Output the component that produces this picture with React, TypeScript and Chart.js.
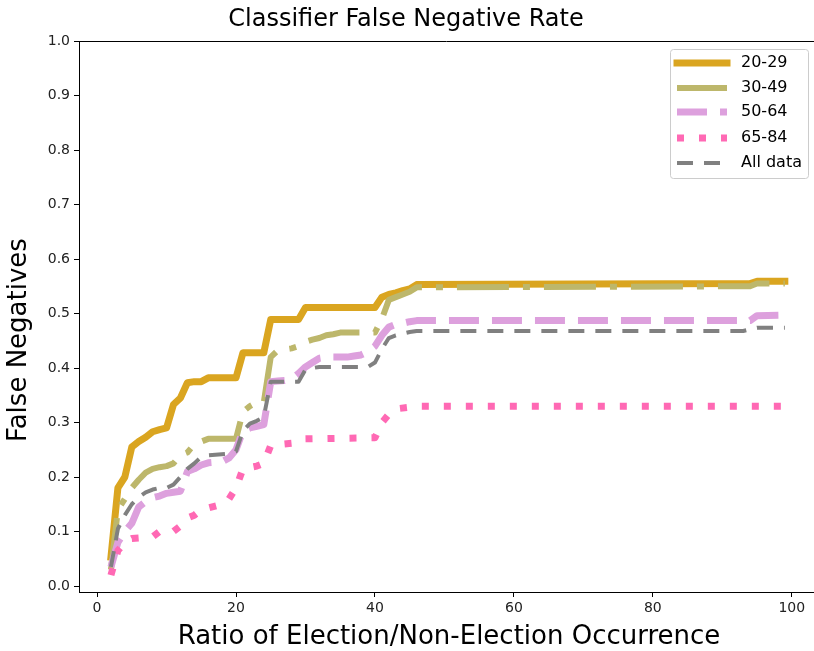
import React, { useEffect, useRef } from 'react';
import { Chart, registerables } from 'chart.js';

Chart.register(...registerables);

const TITLE = 'Classifier False Negative Rate';
const X_LABEL = 'Ratio of Election/Non-Election Occurrence';
const Y_LABEL = 'False Negatives';

const LABELS = ['20-29', '30-49', '50-64', '65-84', 'All data'];
const COLORS = ['#DAA520', '#BDB76B', '#DDA0DD', '#FF69B4', '#808080'];
const WIDTHS = [7, 6, 7, 7, 4];
const DASHES: number[][] = [[], [52, 14, 7, 14], [30, 13], [7, 15], [16, 11]];

const X_TICKS = [0, 20, 40, 60, 80, 100];
const Y_TICKS = [0, 0.1, 0.2, 0.3, 0.4, 0.5, 0.6, 0.7, 0.8, 0.9, 1.0];

const X_2029 = [2, 3, 4, 5, 6, 7, 8, 9, 10, 11, 12, 13, 14, 15, 16, 20, 21, 24, 25, 29, 30, 40, 41, 42, 43, 44, 45, 46, 94, 95, 99];
const Y_2029 = [0.053, 0.18, 0.2, 0.255, 0.265, 0.273, 0.283, 0.287, 0.29, 0.333, 0.345, 0.373, 0.375, 0.375, 0.382, 0.382, 0.428, 0.428, 0.489, 0.489, 0.511, 0.511, 0.53, 0.535, 0.538, 0.542, 0.545, 0.553, 0.555, 0.559, 0.559];

const X_3049 = [2, 3, 4, 5, 6, 7, 8, 9, 10, 11, 12, 13, 14, 15, 16, 20, 21, 22, 23, 24, 25, 26, 27, 28, 29, 30, 31, 32, 33, 34, 35, 40, 41, 42, 43, 44, 45, 46, 94, 95, 99];
const Y_3049 = [0.03, 0.14, 0.16, 0.18, 0.195, 0.208, 0.215, 0.218, 0.22, 0.225, 0.24, 0.245, 0.26, 0.265, 0.27, 0.27, 0.32, 0.33, 0.337, 0.337, 0.42, 0.432, 0.434, 0.436, 0.44, 0.448, 0.452, 0.455, 0.46, 0.462, 0.465, 0.465, 0.49, 0.525, 0.53, 0.535, 0.54, 0.548, 0.55, 0.555, 0.555];

const X_5064 = [2, 3, 4, 5, 6, 7, 8, 9, 10, 11, 12, 13, 14, 15, 16, 17, 18, 19, 20, 21, 22, 23, 24, 25, 26, 27, 28, 29, 30, 31, 32, 33, 36, 37, 38, 39, 40, 41, 42, 43, 44, 45, 46, 94, 95, 99];
const Y_5064 = [0.035, 0.08, 0.1, 0.115, 0.145, 0.155, 0.162, 0.165, 0.17, 0.172, 0.174, 0.21, 0.215, 0.222, 0.226, 0.227, 0.228, 0.235, 0.25, 0.285, 0.29, 0.293, 0.296, 0.375, 0.376, 0.377, 0.38, 0.39, 0.402, 0.41, 0.418, 0.42, 0.42, 0.422, 0.424, 0.43, 0.44, 0.46, 0.475, 0.48, 0.482, 0.485, 0.487, 0.487, 0.496, 0.497];

const X_6584 = [2, 3, 4, 5, 8, 9, 11, 12, 13, 14, 15, 18, 19, 20, 21, 23, 24, 25, 29, 30, 40, 41, 42, 43, 45, 46, 99];
const Y_6584 = [0.02, 0.065, 0.08, 0.087, 0.09, 0.1, 0.1, 0.11, 0.125, 0.13, 0.14, 0.15, 0.16, 0.18, 0.215, 0.22, 0.225, 0.258, 0.263, 0.27, 0.272, 0.3, 0.315, 0.325, 0.328, 0.33, 0.33];

const X_ALL = [2, 3, 4, 5, 6, 7, 8, 9, 10, 11, 12, 13, 14, 15, 16, 19, 20, 21, 22, 23, 24, 25, 29, 30, 31, 32, 39, 40, 41, 42, 43, 44, 45, 46, 93, 94, 95, 99];
const Y_ALL = [0.035, 0.105, 0.13, 0.15, 0.163, 0.172, 0.177, 0.18, 0.18, 0.186, 0.2, 0.215, 0.225, 0.237, 0.24, 0.243, 0.247, 0.285, 0.298, 0.303, 0.31, 0.375, 0.375, 0.397, 0.4, 0.402, 0.402, 0.41, 0.435, 0.455, 0.46, 0.463, 0.466, 0.468, 0.468, 0.471, 0.474, 0.474];

const SERIES_X = [X_2029, X_3049, X_5064, X_6584, X_ALL];
const SERIES_Y = [Y_2029, Y_3049, Y_5064, Y_6584, Y_ALL];

const FONT = "'DejaVu Sans', 'Liberation Sans', sans-serif";

const decorPlugin = {
  id: 'decor',
  afterDraw(chart: any) {
    const ctx = chart.ctx as CanvasRenderingContext2D;
    const area = chart.chartArea;
    ctx.save();
    // top spine
    ctx.strokeStyle = '#000';
    ctx.lineWidth = 1;
    ctx.beginPath();
    ctx.moveTo(area.left, area.top + 0.5);
    ctx.lineTo(area.right, area.top + 0.5);
    ctx.stroke();

    // title
    ctx.fillStyle = '#000';
    ctx.font = `24px ${FONT}`;
    ctx.textAlign = 'center';
    ctx.textBaseline = 'middle';
    ctx.fillText(TITLE, 406, 20);

    // x label
    ctx.font = `26px ${FONT}`;
    ctx.fillText(X_LABEL, 449, 637);

    // y label
    ctx.save();
    ctx.translate(19, 340);
    ctx.rotate(-Math.PI / 2);
    ctx.fillText(Y_LABEL, 0, 0);
    ctx.restore();

    // legend
    const bx = 670.5, by = 49.5, bw = 138, bh = 129;
    ctx.beginPath();
    ctx.roundRect(bx, by, bw, bh, 3);
    ctx.fillStyle = 'rgba(255,255,255,0.8)';
    ctx.fill();
    ctx.strokeStyle = '#cccccc';
    ctx.lineWidth = 1;
    ctx.stroke();

    const rowY = [63, 88, 112, 138, 163];
    LABELS.forEach((lab, i) => {
      const y = rowY[i];
      ctx.save();
      ctx.strokeStyle = COLORS[i];
      ctx.lineWidth = WIDTHS[i];
      ctx.setLineDash(DASHES[i]);
      ctx.lineCap = DASHES[i].length ? 'butt' : 'square';
      ctx.beginPath();
      ctx.moveTo(677, y);
      ctx.lineTo(727, y);
      ctx.stroke();
      ctx.restore();
      ctx.fillStyle = '#000';
      ctx.font = `16px ${FONT}`;
      ctx.textAlign = 'left';
      ctx.textBaseline = 'middle';
      ctx.fillText(lab, 741, y);
    });
    ctx.restore();
  },
};

export default function App() {
  const ref = useRef<HTMLCanvasElement | null>(null);

  useEffect(() => {
    document.body.style.margin = '0';
    const canvas = ref.current;
    if (!canvas) return;
    const datasets = LABELS.map((lab, i) => ({
      label: lab,
      data: SERIES_X[i].map((x, j) => ({ x, y: SERIES_Y[i][j] })),
      borderColor: COLORS[i],
      backgroundColor: COLORS[i],
      borderWidth: WIDTHS[i],
      borderDash: DASHES[i],
      borderCapStyle: (DASHES[i].length ? 'butt' : 'square') as CanvasLineCap,
      borderJoinStyle: 'round' as CanvasLineJoin,
      pointRadius: 0,
      fill: false,
      tension: 0,
      order: LABELS.length - i,
    }));

    const chart = new Chart(canvas, {
      type: 'line',
      data: { datasets },
      options: {
        animation: false,
        responsive: false,
        maintainAspectRatio: false,
        devicePixelRatio: 1,
        layout: { padding: { top: 41, right: 0, left: 0, bottom: 0 } },
        plugins: {
          legend: { display: false },
          title: { display: false },
          tooltip: { enabled: false },
        },
        scales: {
          x: {
            type: 'linear',
            min: -2.6,
            max: 103.2,
            afterBuildTicks: (s: any) => {
              s.ticks = X_TICKS.map((v) => ({ value: v }));
            },
            afterFit: (s: any) => {
              s.height = 59;
            },
            grid: { drawOnChartArea: false, drawTicks: true, tickLength: 5, color: '#000' },
            border: { display: true, color: '#000', width: 1 },
            ticks: {
              font: { family: FONT, size: 14 },
              color: '#222',
              padding: 3,
              maxRotation: 0,
              autoSkip: false,
              callback: (v: any) => String(v),
            },
          },
          y: {
            type: 'linear',
            min: -0.011,
            max: 1.0,
            afterBuildTicks: (s: any) => {
              s.ticks = Y_TICKS.map((v) => ({ value: v }));
            },
            afterFit: (s: any) => {
              s.width = 79;
            },
            grid: { drawOnChartArea: false, drawTicks: true, tickLength: 5, color: '#000' },
            border: { display: true, color: '#000', width: 1 },
            ticks: {
              font: { family: FONT, size: 14 },
              color: '#222',
              padding: 4,
              autoSkip: false,
              callback: (v: any) => Number(v).toFixed(1),
            },
          },
        },
      },
      plugins: [decorPlugin],
    });
    return () => chart.destroy();
  }, []);

  return (
    <div style={{ width: 814, height: 651 }}>
      <canvas ref={ref} width={814} height={651} style={{ display: 'block', width: 814, height: 651 }} />
    </div>
  );
}
